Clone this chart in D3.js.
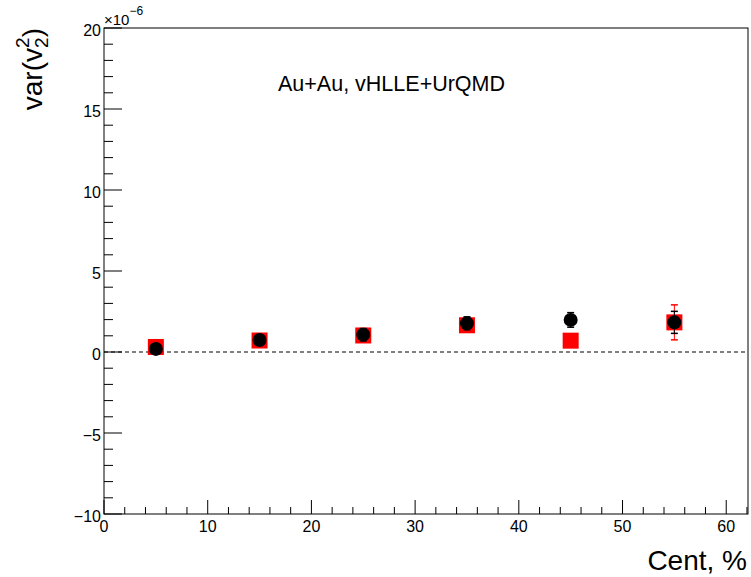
<!DOCTYPE html>
<html>
<head>
<meta charset="utf-8">
<script src="https://cdn.jsdelivr.net/npm/d3@7"></script>
<style>
  html, body { margin: 0; padding: 0; background: #fff; }
  svg { display: block; font-family: "Liberation Sans", Arial, Helvetica, sans-serif; }
</style>
</head>
<body>
<svg id="chart" width="751" height="577"></svg>
<script>
// ---- data ----
const centrality = [5, 15, 25, 35, 45, 55];
const redValues = [0.31, 0.71, 1.02, 1.65, 0.70, 1.83];
const redErrors = [0.15, 0.2, 0.25, 0.35, 0.4, 1.08];
const blackValues = [0.19, 0.74, 1.07, 1.77, 1.98, 1.83];
const blackErrors = [0.2, 0.25, 0.38, 0.4, 0.45, 0.68];
const xTicks = [0, 10, 20, 30, 40, 50, 60];
const yTicks = [-10, -5, 0, 5, 10, 15, 20];
const annotation = "Au+Au, vHLLE+UrQMD";

// ---- layout ----
const L = 104, R = 748, T = 28, B = 514;
const svg = d3.select("#chart");
const x = d3.scaleLinear().domain([0, 62.1]).range([L, R]);
const y = d3.scaleLinear().domain([-10, 20]).range([B, T]);

// frame
svg.append("rect").attr("x", L).attr("y", T).attr("width", R - L).attr("height", B - T)
  .attr("fill", "none").attr("stroke", "#000").attr("stroke-width", 1);

// x axis (ticks pointing inside / up)
const xMinor = d3.range(0, 62.1, 2);
const gx = svg.append("g");
gx.selectAll("line.minor").data(xMinor).join("line")
  .attr("x1", d => x(d)).attr("x2", d => x(d))
  .attr("y1", B).attr("y2", d => xTicks.includes(d) ? B - 14 : B - 7)
  .attr("stroke", "#000").attr("stroke-width", 1);
gx.selectAll("text").data(xTicks).join("text")
  .attr("x", d => x(d)).attr("y", 532)
  .attr("text-anchor", "middle").attr("font-size", 16).text(d => d);

// y axis
const yMinor = d3.range(-10, 20.01, 1);
const gy = svg.append("g");
gy.selectAll("line").data(yMinor).join("line")
  .attr("x1", L).attr("x2", d => yTicks.includes(d) ? L + 18 : L + 9)
  .attr("y1", d => y(d)).attr("y2", d => y(d))
  .attr("stroke", "#000").attr("stroke-width", 1);
gy.selectAll("text").data(yTicks).join("text")
  .attr("x", 101).attr("y", d => y(d) + 7.5)
  .attr("text-anchor", "end").attr("font-size", 16)
  .text(d => d < 0 ? "\u2212" + Math.abs(d) : d);

// exponent label
const ex = svg.append("text").attr("x", 104).attr("y", 25).attr("font-size", 15);
ex.append("tspan").text("\u00d710");
ex.append("tspan").attr("dy", -10).attr("font-size", 12).text("\u22126");

// zero dashed line
svg.append("line").attr("x1", L).attr("x2", R).attr("y1", y(0)).attr("y2", y(0))
  .attr("stroke", "#000").attr("stroke-width", 1).attr("stroke-dasharray", "4,3");

// axis titles
svg.append("text").attr("x", 747).attr("y", 570).attr("text-anchor", "end")
  .attr("font-size", 28).text("Cent, %");
const yt = svg.append("text").attr("transform", "translate(42,28) rotate(-90)")
  .attr("text-anchor", "end").attr("font-size", 28);
yt.append("tspan").text("var(v");
yt.append("tspan").attr("font-size", 19).attr("dy", 6).text("2");
yt.append("tspan").attr("font-size", 19).attr("dx", -10.5).attr("dy", -19).text("2");
yt.append("tspan").attr("dy", 13).text(")");

// annotation
svg.append("text").attr("x", 278).attr("y", 91).attr("font-size", 21.5).text(annotation);

// ---- series ----
function drawSeries(vals, errs, color, shape) {
  const g = svg.append("g");
  const idx = d3.range(centrality.length);
  // error bars
  g.selectAll("line.err").data(idx).join("line")
    .attr("x1", i => x(centrality[i])).attr("x2", i => x(centrality[i]))
    .attr("y1", i => y(vals[i] - errs[i])).attr("y2", i => y(vals[i] + errs[i]))
    .attr("stroke", color).attr("stroke-width", 1);
  ["lo", "hi"].forEach(k => {
    g.selectAll("line.cap" + k).data(idx).join("line")
      .attr("x1", i => x(centrality[i]) - 3.5).attr("x2", i => x(centrality[i]) + 3.5)
      .attr("y1", i => y(k === "lo" ? vals[i] - errs[i] : vals[i] + errs[i]))
      .attr("y2", i => y(k === "lo" ? vals[i] - errs[i] : vals[i] + errs[i]))
      .attr("stroke", color).attr("stroke-width", 1.5);
  });
  if (shape === "square") {
    g.selectAll("rect").data(idx).join("rect")
      .attr("x", i => x(centrality[i]) - 8).attr("y", i => y(vals[i]) - 8)
      .attr("width", 16).attr("height", 16).attr("fill", color);
  } else {
    g.selectAll("circle").data(idx).join("circle")
      .attr("cx", i => x(centrality[i])).attr("cy", i => y(vals[i]))
      .attr("r", 7).attr("fill", color);
  }
}
drawSeries(redValues, redErrors, "#ff0000", "square");
drawSeries(blackValues, blackErrors, "#000000", "circle");
</script>
</body>
</html>
